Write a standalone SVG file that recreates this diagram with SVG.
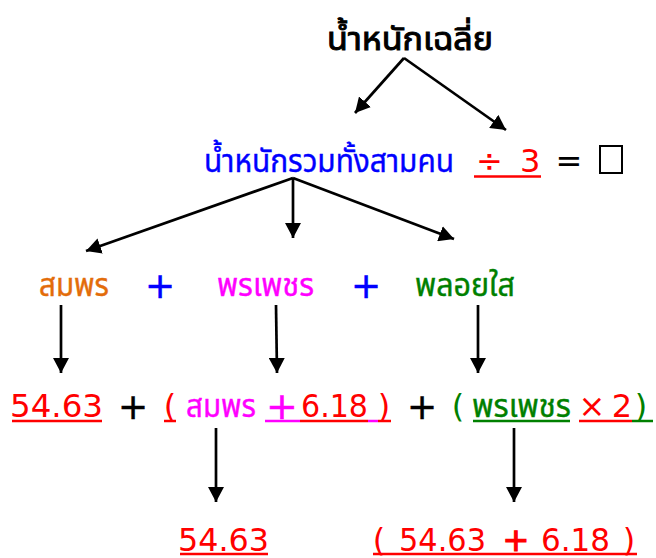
<svg xmlns="http://www.w3.org/2000/svg" width="656" height="558" viewBox="0 0 656 558">
<style>
text{font-family:"DejaVu Sans","Noto Sans Thai","Noto Sans",sans-serif;font-size:32px}
.k{fill:#000}.r{fill:#FF0000}.b{fill:#0000FF}.o{fill:#E36C0A}.m{fill:#FF00FF}.g{fill:#008000}
.th{stroke-width:0.4}
.k.th,.k.p{stroke:#000}.b.th,.b.p{stroke:#0000FF}.o.th{stroke:#E36C0A}.m.th,.m.p{stroke:#FF00FF}.g.th{stroke:#008000}.r.p{stroke:#FF0000}
.p{font-size:36px;stroke-width:0.5}
.c line{stroke:#000;stroke-width:2.7;marker-end:url(#ah)}
.u{stroke-width:2.5}
</style>
<defs>
<marker id="ah" viewBox="0 0 15 16" refX="15" refY="8" markerWidth="15" markerHeight="16" markerUnits="userSpaceOnUse" orient="auto">
<path d="M0,0 L15,8 L0,16 z" fill="#000"/>
</marker>
</defs>
<rect width="656" height="558" fill="#fff"/>
<g id="connectors" class="c">
<line x1="404" y1="58" x2="355" y2="113"/>
<line x1="404" y1="58" x2="506" y2="130"/>
<line x1="293" y1="178" x2="86" y2="251"/>
<line x1="293" y1="178" x2="293" y2="238"/>
<line x1="293" y1="178" x2="454" y2="239"/>
<line x1="61" y1="305" x2="61" y2="373"/>
<line x1="276" y1="305" x2="277" y2="373"/>
<line x1="478" y1="305" x2="478" y2="373"/>
<line x1="216" y1="428" x2="216" y2="502"/>
<line x1="514" y1="428" x2="514" y2="502"/>
</g>
<g id="title"><text class="k th" x="327" y="50" font-size="34" style="stroke-width:1" textLength="166" lengthAdjust="spacingAndGlyphs">น้ำหนักเฉลี่ย</text></g>
<g id="total">
<text class="b th" x="204" y="172" font-size="35" textLength="250" lengthAdjust="spacingAndGlyphs">น้ำหนักรวมทั้งสามคน</text>
</g>
<g id="div3">
<text class="r" x="476" y="172">÷</text>
<text class="r" x="520" y="172">3</text>
<line class="u" x1="474" y1="176.5" x2="541" y2="176.5" stroke="#FF0000"/>
</g>
<g id="eq"><text class="k" x="569" y="172" text-anchor="middle" font-size="23">=</text></g>
<g id="answer"><rect x="600" y="146" width="22" height="27" fill="none" stroke="#000" stroke-width="2"/></g>
<g id="somporn"><text class="o th" x="39" y="296" textLength="70" lengthAdjust="spacingAndGlyphs">สมพร</text></g>
<g id="plus1"><text class="b p" x="160" y="298" text-anchor="middle">+</text></g>
<g id="pornpetch"><text class="m th" x="217" y="296" textLength="97" lengthAdjust="spacingAndGlyphs">พรเพชร</text></g>
<g id="plus2"><text class="b p" x="366" y="298" text-anchor="middle">+</text></g>
<g id="ploysai"><text class="g th" x="415" y="296" textLength="100" lengthAdjust="spacingAndGlyphs">พลอยใส</text></g>
<g id="v1">
<text class="r" x="10" y="417" textLength="93" lengthAdjust="spacingAndGlyphs">54.63</text>
<line class="u" x1="12" y1="421" x2="102" y2="421" stroke="#FF0000"/>
</g>
<g id="plus3"><text class="k p" x="133" y="419" text-anchor="middle">+</text></g>
<g id="v2">
<text class="r" x="170" y="417" text-anchor="middle">(</text>
<line class="u" x1="164" y1="421" x2="176" y2="421" stroke="#FF0000"/>
<text class="m th" x="186" y="417" textLength="70" lengthAdjust="spacingAndGlyphs">สมพร</text>
<text class="m p" x="282" y="419" text-anchor="middle" style="font-size:38px">+</text>
<line class="u" x1="265" y1="421" x2="300" y2="421" stroke="#FF00FF"/>
<text class="r" x="301" y="417" textLength="67" lengthAdjust="spacingAndGlyphs">6.18</text>
<line class="u" x1="300" y1="421" x2="368" y2="421" stroke="#FF0000"/>
<line class="u" x1="368" y1="421" x2="378" y2="421" stroke="#FF00FF"/>
<text class="r" x="384" y="417" text-anchor="middle">)</text>
<line class="u" x1="378" y1="421" x2="391" y2="421" stroke="#FF0000"/>
</g>
<g id="plus4"><text class="k p" x="422" y="419" text-anchor="middle">+</text></g>
<g id="v3">
<text class="g" x="458" y="417" text-anchor="middle" font-size="26">(</text>
<text class="g th" x="472" y="417" textLength="99" lengthAdjust="spacingAndGlyphs">พรเพชร</text>
<line class="u" x1="473" y1="421" x2="570" y2="421" stroke="#008000"/>
<text class="r" x="592" y="417" text-anchor="middle">×</text>
<text class="r" x="622" y="417" text-anchor="middle">2</text>
<line class="u" x1="579" y1="421" x2="632" y2="421" stroke="#FF0000"/>
<line class="u" x1="632" y1="421" x2="653" y2="421" stroke="#008000"/>
<text class="g" x="641" y="417" text-anchor="middle" font-size="26">)</text>
</g>
<g id="r1">
<text class="r" x="178" y="551" textLength="91" lengthAdjust="spacingAndGlyphs">54.63</text>
<line class="u" x1="180" y1="554" x2="268" y2="554" stroke="#FF0000"/>
</g>
<g id="r2">
<text class="r" x="379" y="551" text-anchor="middle">(</text>
<text class="r" x="399" y="551" textLength="87" lengthAdjust="spacingAndGlyphs">54.63</text>
<text class="r p" x="516" y="551" text-anchor="middle" style="font-size:32px;stroke-width:1.2">+</text>
<text class="r" x="541" y="551" textLength="69" lengthAdjust="spacingAndGlyphs">6.18</text>
<text class="r" x="629" y="551" text-anchor="middle">)</text>
<line class="u" x1="373" y1="554" x2="637" y2="554" stroke="#FF0000"/>
</g>
</svg>
